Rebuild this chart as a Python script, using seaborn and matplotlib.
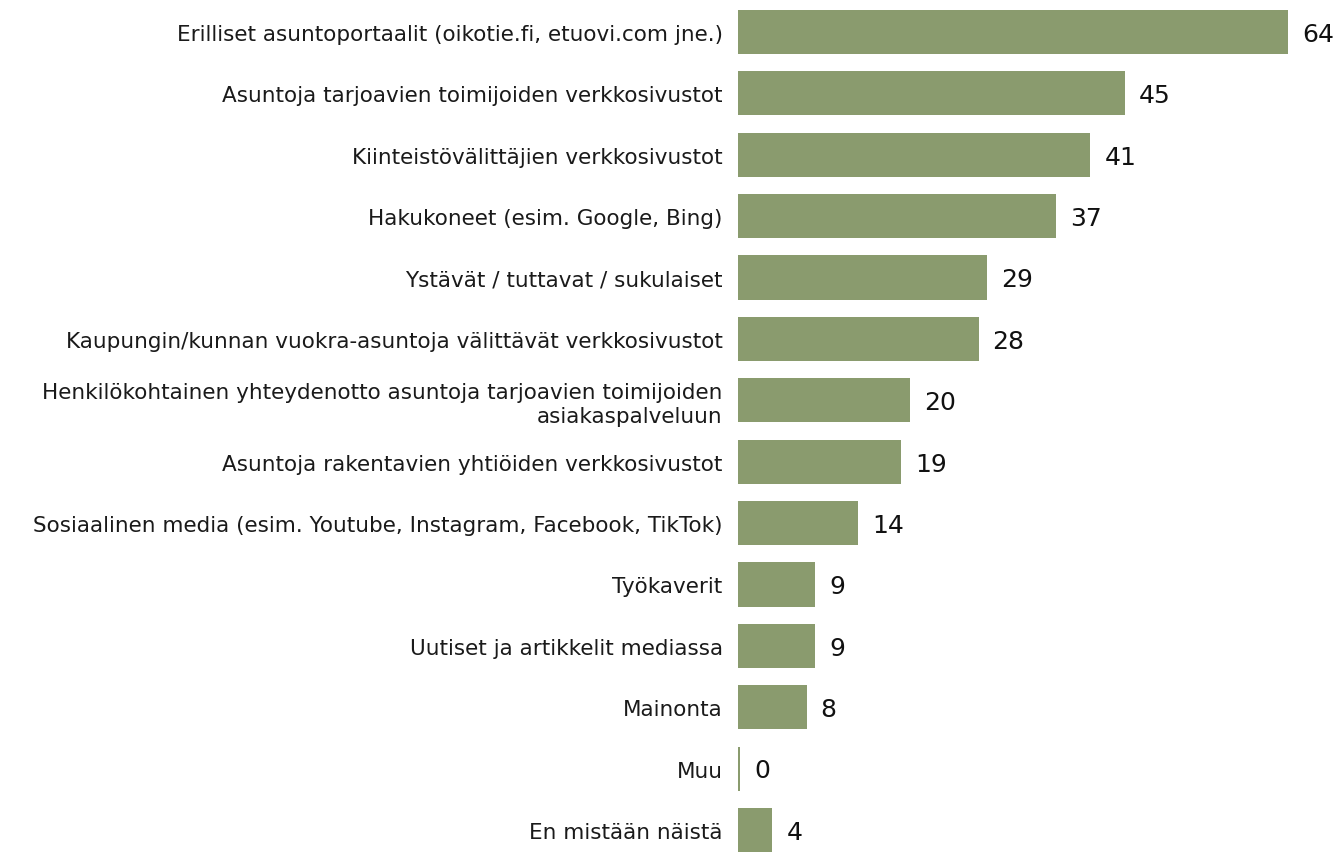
import seaborn as sns
import matplotlib.pyplot as plt
import pandas as pd

categories = [
    "Erilliset asuntoportaalit (oikotie.fi, etuovi.com jne.)",
    "Asuntoja tarjoavien toimijoiden verkkosivustot",
    "Kiinteistövälittäjien verkkosivustot",
    "Hakukoneet (esim. Google, Bing)",
    "Ystävät / tuttavat / sukulaiset",
    "Kaupungin/kunnan vuokra-asuntoja välittävät verkkosivustot",
    "Henkilökohtainen yhteydenotto asuntoja tarjoavien toimijoiden\nasiakaspalveluun",
    "Asuntoja rakentavien yhtiöiden verkkosivustot",
    "Sosiaalinen media (esim. Youtube, Instagram, Facebook, TikTok)",
    "Työkaverit",
    "Uutiset ja artikkelit mediassa",
    "Mainonta",
    "Muu",
    "En mistään näistä",
]
# Muu is shown as a hairline bar, labelled 0 after rounding
values = [64, 45, 41, 37, 29, 28, 20, 19, 14, 9, 9, 8, 0.25, 4]

dfrm = pd.DataFrame({"category": categories, "value": values})

W, H = 1341, 853
fig = plt.figure(figsize=(W / 100, H / 100), dpi=100)
sns.set_style("white")
plt.rcParams['font.family'] = ['DejaVu Sans']

px_per_unit = 550 / 64
xmax = 70
ax = fig.add_axes([738 / W, 0, xmax * px_per_unit / W, 1])

sns.barplot(data=dfrm, y="category", x="value", orient="h", color="#8a9b6e",
            saturation=1, width=0.72, linewidth=0, ax=ax)

step = (831 - 33) / 13
ax.set_ylim(13 + (H - 831) / step, -33 / step)
ax.set_xlim(0, xmax)

for i, val in enumerate(values):
    ax.text(val + 14 / px_per_unit, i + 0.03, "{:.0f}".format(val), va="center", ha="left",
            fontsize=18, color="#111111")

ax.set_xlabel("")
ax.set_ylabel("")
ax.set_xticks([])
ax.tick_params(axis="y", length=0, pad=11)
for label in ax.get_yticklabels():
    label.set_fontsize(15.5)
    label.set_color("#1a1a1a")
    label.set_multialignment("right")
sns.despine(ax=ax, left=True, bottom=True)

plt.savefig("out.png", dpi=100)
